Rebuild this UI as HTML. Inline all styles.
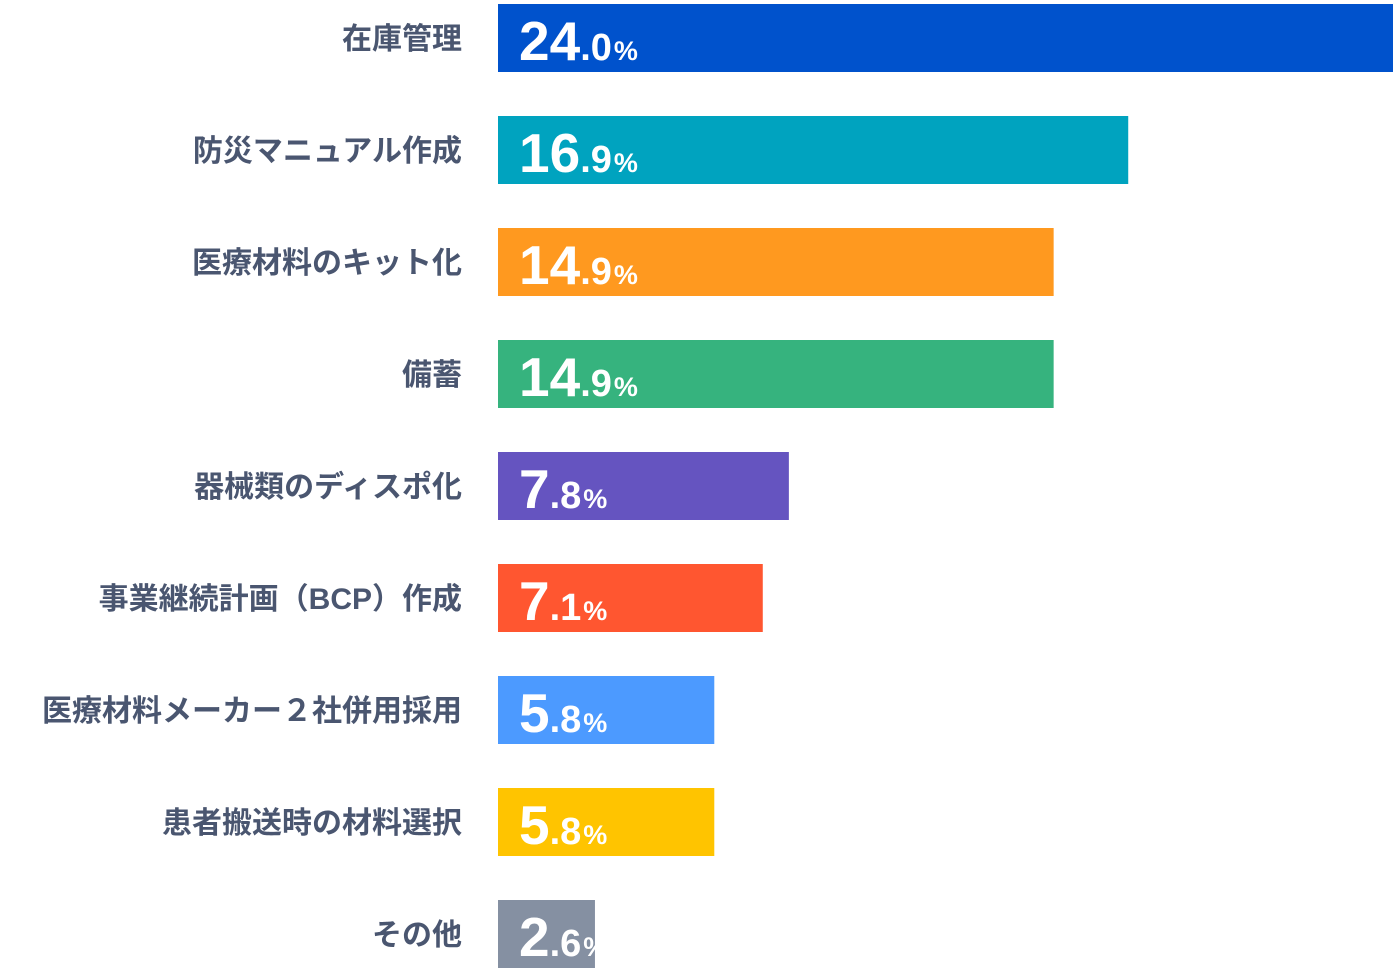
<!DOCTYPE html>
<html><head><meta charset="utf-8"><style>
body{margin:0;background:#fff;width:1400px;height:972px;overflow:hidden;font-family:"Liberation Sans","Noto Sans CJK JP",sans-serif}
svg text{font-family:"Liberation Sans","Noto Sans CJK JP",sans-serif;font-weight:bold}
</style></head><body>
<svg id="chart" width="1400" height="972" xmlns="http://www.w3.org/2000/svg"></svg>
<script>
const categories=["在庫管理","防災マニュアル作成","医療材料のキット化","備蓄","器械類のディスポ化","事業継続計画（BCP）作成","医療材料メーカー２社併用採用","患者搬送時の材料選択","その他"];
const values=[24.0,16.9,14.9,14.9,7.8,7.1,5.8,5.8,2.6];
const colors=["#0052cc","#00a3bf","#ff991f","#36b37e","#6554c0","#ff5630","#4c9aff","#ffc400","#8590a2"];
const svg=document.getElementById('chart');
const NS="http://www.w3.org/2000/svg";
const x0=498, scale=(1393-498)/24, top0=4, step=112, bh=68;
function xs(v){return v*scale;}
function yb(i){return top0+i*step;}
categories.forEach((c,i)=>{
  const g=document.createElementNS(NS,'g');
  
  
  const r=document.createElementNS(NS,'rect');
  
  
  r.setAttribute('x',x0);r.setAttribute('y',yb(i));r.setAttribute('width',xs(values[i]));r.setAttribute('height',bh);r.setAttribute('fill',colors[i]);
  g.appendChild(r);
  const l=document.createElementNS(NS,'text');
  
  
  l.setAttribute('x',462);l.setAttribute('y',yb(i)+bh/2+11);l.setAttribute('text-anchor','end');l.setAttribute('font-size','30');l.setAttribute('fill','#4a5670');
  l.textContent=c;g.appendChild(l);
  const parts=values[i].toFixed(1).split('.');
  const t=document.createElementNS(NS,'text');
  
  
  t.setAttribute('x',519);t.setAttribute('y',yb(i)+56);t.setAttribute('fill','#fff');
  const a=document.createElementNS(NS,'tspan');a.setAttribute('font-size','55');a.textContent=parts[0];
  const b=document.createElementNS(NS,'tspan');b.setAttribute('font-size','38');b.textContent='.'+parts[1];
  const p=document.createElementNS(NS,'tspan');p.setAttribute('font-size','27');p.setAttribute('dx','2');p.textContent='%';
  t.appendChild(a);t.appendChild(b);t.appendChild(p);g.appendChild(t);
  svg.appendChild(g);
});
</script>
</body></html>
